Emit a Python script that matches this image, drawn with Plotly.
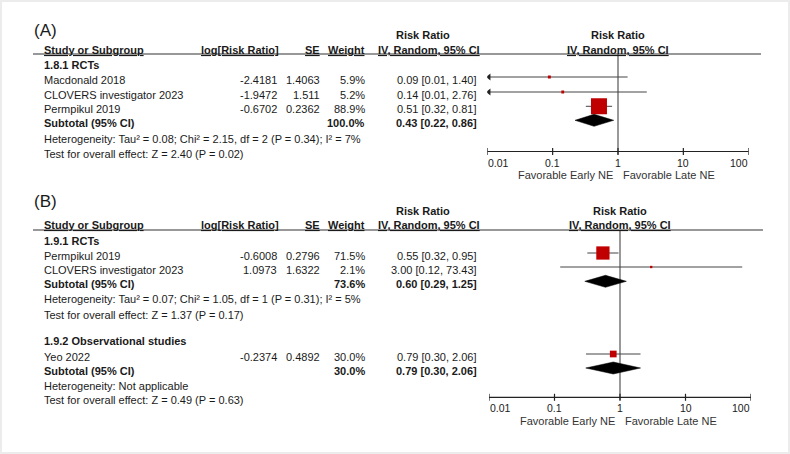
import math
import plotly.graph_objects as go

# ---------------- data ----------------
# Panel A: 1.8.1 RCTs
a_group = "1.8.1 RCTs"
a_studies = ["Macdonald 2018", "CLOVERS investigator 2023", "Permpikul 2019"]
a_logrr = [-2.4181, -1.9472, -0.6702]
a_se = [1.4063, 1.511, 0.2362]
a_weight = [5.9, 5.2, 88.9]
a_rr = [0.09, 0.14, 0.51]
a_lo = [0.01, 0.01, 0.32]
a_hi = [1.40, 2.76, 0.81]
a_sub_weight = [100.0]
a_sub_rr = [0.43]
a_sub_lo = [0.22]
a_sub_hi = [0.86]
a_het = "Heterogeneity: Tau² = 0.08; Chi² = 2.15, df = 2 (P = 0.34); I² = 7%"
a_test = "Test for overall effect: Z = 2.40 (P = 0.02)"

# Panel B: 1.9.1 RCTs
b1_group = "1.9.1 RCTs"
b1_studies = ["Permpikul 2019", "CLOVERS investigator 2023"]
b1_logrr = [-0.6008, 1.0973]
b1_se = [0.2796, 1.6322]
b1_weight = [71.5, 2.1]
b1_rr = [0.55, 3.00]
b1_lo = [0.32, 0.12]
b1_hi = [0.95, 73.43]
b1_sub_weight = [73.6]
b1_sub_rr = [0.60]
b1_sub_lo = [0.29]
b1_sub_hi = [1.25]
b1_het = "Heterogeneity: Tau² = 0.07; Chi² = 1.05, df = 1 (P = 0.31); I² = 5%"
b1_test = "Test for overall effect: Z = 1.37 (P = 0.17)"

# Panel B: 1.9.2 Observational studies
b2_group = "1.9.2 Observational studies"
b2_studies = ["Yeo 2022"]
b2_logrr = [-0.2374]
b2_se = [0.4892]
b2_weight = [30.0]
b2_rr = [0.79]
b2_lo = [0.30]
b2_hi = [2.06]
b2_sub_weight = [30.0]
b2_sub_rr = [0.79]
b2_sub_lo = [0.30]
b2_sub_hi = [2.06]
b2_het = "Heterogeneity: Not applicable"
b2_test = "Test for overall effect: Z = 0.49 (P = 0.63)"

tick_vals = [0.01, 0.1, 1, 10, 100]
tick_text = ["0.01", "0.1", "1", "10", "100"]
favours_left = "Favorable Early NE"
favours_right = "Favorable Late NE"
col_headers = ["Study or Subgroup", "log[Risk Ratio]", "SE", "Weight",
               "IV, Random, 95% CI", "IV, Random, 95% CI"]
rr_title = "Risk Ratio"
panel_labels = ["(A)", "(B)"]

# ---------------- style / layout ----------------
W, H = 790, 454
FONT = "Liberation Sans, Arial, Helvetica, sans-serif"
TXT = "#1a1a1a"
RED = "#C00000"
LINE = "#444444"
XMIN, XMAX = 0.01, 100

fig = go.Figure()
ann = []
shapes = []


def px(x):
    return x / W


def text(x, y, s, anchor="left", size=11, bold=False, under=False,
         xref="paper", color=TXT):
    if under:
        s = "<u>%s</u>" % s
    if bold:
        s = "<b>%s</b>" % s
    ann.append(dict(x=px(x) if xref == "paper" else x, y=y, xref=xref, yref="y",
                    text=s, showarrow=False, xanchor=anchor, yanchor="middle",
                    borderpad=0, font=dict(family=FONT, size=size, color=color)))


def msize(w):
    return 2 + 0.1575 * w


def fmt_ci(r, l, h):
    return "%.2f [%.2f, %.2f]" % (r, l, h)


DOMAINS = {"x": (487.3, 748.7), "x2": (489.0, 751.0)}


def xa_center(xa):
    d = DOMAINS[xa]
    return (d[0] + d[1]) / 2


def draw_group(xa, gy, group, rows_y, studies, logrr, se, weight, rr, lo, hi,
               sub_y, sub_w, sub_rr, sub_lo, sub_hi, het_y, het, test_y, test):
    text(43, gy, group, bold=True)
    lx, ly, ax, ay, sx, sy, ss = [], [], [], [], [], [], []
    for i, name in enumerate(studies):
        y = rows_y[i]
        text(43, y, name)
        text(278, y, str(logrr[i]), anchor="right")
        text(320.5, y, str(se[i]), anchor="right")
        text(366, y, "%.1f%%" % weight[i], anchor="right")
        text(478, y, fmt_ci(rr[i], lo[i], hi[i]), anchor="right")
        my = y - 3
        l_true = math.exp(logrr[i] - 1.96 * se[i])
        h_true = math.exp(logrr[i] + 1.96 * se[i])
        lx += [max(l_true, XMIN), min(h_true, XMAX), None]
        ly += [my, my, None]
        if l_true < XMIN:
            ax.append(XMIN * 1.06)
            ay.append(my)
        sx.append(math.exp(logrr[i]))
        sy.append(my)
        ss.append(msize(weight[i]))
    fig.add_trace(go.Scatter(x=lx, y=ly, xaxis=xa, yaxis="y", mode="lines",
                             line=dict(color=LINE, width=1), hoverinfo="skip",
                             showlegend=False))
    if ax:
        fig.add_trace(go.Scatter(x=ax, y=ay, xaxis=xa, yaxis="y", mode="markers",
                                 marker=dict(symbol="triangle-left", size=6,
                                             color="#222222", line=dict(width=0)),
                                 hoverinfo="skip", showlegend=False))
    fig.add_trace(go.Scatter(x=sx, y=sy, xaxis=xa, yaxis="y", mode="markers",
                             marker=dict(symbol="square", size=ss, color=RED,
                                         opacity=1, line=dict(width=0)),
                             hoverinfo="skip", showlegend=False))
    # subtotal
    text(43, sub_y, "Subtotal (95% CI)", bold=True)
    text(366, sub_y, "%.1f%%" % sub_w[0], anchor="right", bold=True)
    text(478, sub_y, fmt_ci(sub_rr[0], sub_lo[0], sub_hi[0]), anchor="right", bold=True)
    dy = sub_y - 3
    hh = 6
    fig.add_trace(go.Scatter(
        x=[sub_lo[0], sub_rr[0], sub_hi[0], sub_rr[0], sub_lo[0]],
        y=[dy, dy - hh, dy, dy + hh, dy], xaxis=xa, yaxis="y", mode="lines",
        fill="toself", fillcolor="#000000", line=dict(color="#000000", width=0.5),
        hoverinfo="skip", showlegend=False))
    text(43, het_y, het)
    text(43, test_y, test)


def draw_frame(xa, label, label_y, title_y, head_y, rule_y, rule_x1, axis_y,
               tick_y, fav_y):
    text(33, label_y, label, size=17)
    text(423, title_y, rr_title, anchor="center", bold=True)
    text(xa_center(xa), title_y, rr_title, anchor="center", bold=True)
    text(43, head_y, col_headers[0], bold=True, under=True)
    text(280, head_y, col_headers[1], anchor="right", bold=True, under=True)
    text(320.5, head_y, col_headers[2], anchor="right", bold=True, under=True)
    text(366, head_y, col_headers[3], anchor="right", bold=True, under=True)
    text(429, head_y, col_headers[4], anchor="center", bold=True, under=True)
    text(xa_center(xa), head_y, col_headers[5], anchor="center", bold=True, under=True)
    shapes.append(dict(type="line", xref="paper", yref="y", x0=px(33), x1=px(rule_x1),
                       y0=rule_y, y1=rule_y, line=dict(color="#333333", width=1.2)))
    # reference line at RR = 1
    fig.add_trace(go.Scatter(x=[1, 1], y=[rule_y, axis_y + 3], xaxis=xa, yaxis="y",
                             mode="lines", line=dict(color="#555555", width=1.2),
                             hoverinfo="skip", showlegend=False))
    # axis line + ticks
    tx, ty = [XMIN, XMAX, None], [axis_y, axis_y, None]
    for t in tick_vals:
        tx += [t, t, None]
        ty += [axis_y - 3.5, axis_y + 3.5, None]
    fig.add_trace(go.Scatter(x=tx, y=ty, xaxis=xa, yaxis="y", mode="lines",
                             line=dict(color="#222222", width=1.2),
                             hoverinfo="skip", showlegend=False))
    for i, t in enumerate(tick_vals):
        anc = "left" if i == 0 else ("right" if i == len(tick_vals) - 1 else "center")
        text(math.log10(t), tick_y, tick_text[i], anchor=anc, size=10.5, xref=xa)
    ann.append(dict(x=0, y=fav_y, xref=xa, yref="y", text=favours_left,
                    showarrow=False, xanchor="right", yanchor="middle", xshift=-4,
                    borderpad=0, font=dict(family=FONT, size=11, color="#333333")))
    ann.append(dict(x=0, y=fav_y, xref=xa, yref="y", text=favours_right,
                    showarrow=False, xanchor="left", yanchor="middle", xshift=4,
                    borderpad=0, font=dict(family=FONT, size=11, color="#333333")))


# ---------------- panel A ----------------
draw_frame("x", panel_labels[0], 30, 35, 50, 54, 761, 151.5, 163, 175)
draw_group("x", 65, a_group, [80, 95, 109.3], a_studies, a_logrr, a_se, a_weight,
           a_rr, a_lo, a_hi, 123.3, a_sub_weight, a_sub_rr, a_sub_lo, a_sub_hi,
           139, a_het, 154, a_test)

# ---------------- panel B ----------------
draw_frame("x2", panel_labels[1], 201, 211, 225, 230, 763, 397.3, 408, 421)
draw_group("x2", 241, b1_group, [256, 270], b1_studies, b1_logrr, b1_se, b1_weight,
           b1_rr, b1_lo, b1_hi, 284.3, b1_sub_weight, b1_sub_rr, b1_sub_lo, b1_sub_hi,
           298.5, b1_het, 315, b1_test)
draw_group("x2", 341, b2_group, [357], b2_studies, b2_logrr, b2_se, b2_weight,
           b2_rr, b2_lo, b2_hi, 371, b2_sub_weight, b2_sub_rr, b2_sub_lo, b2_sub_hi,
           386, b2_het, 400, b2_test)

# white page on light-grey frame
shapes.insert(0, dict(type="rect", xref="paper", yref="paper", x0=px(2), x1=px(788),
                      y0=1 - 452 / H, y1=1 - 2 / H, fillcolor="#ffffff",
                      line=dict(width=0), layer="below"))

axis_common = dict(type="log", range=[math.log10(XMIN), math.log10(XMAX)],
                   visible=False, fixedrange=True)
fig.update_layout(
    width=W, height=H,
    margin=dict(l=0, r=0, t=0, b=0, pad=0),
    paper_bgcolor="#ececec",
    plot_bgcolor="rgba(0,0,0,0)",
    showlegend=False,
    hovermode=False,
    xaxis=dict(domain=[px(DOMAINS["x"][0]), px(DOMAINS["x"][1])], anchor="y",
               **axis_common),
    xaxis2=dict(domain=[px(DOMAINS["x2"][0]), px(DOMAINS["x2"][1])], anchor="y",
                **axis_common),
    yaxis=dict(domain=[0, 1], range=[H, 0], visible=False, fixedrange=True),
    annotations=ann,
    shapes=shapes,
)

fig.write_html("out.html",
               config={"displayModeBar": False, "staticPlot": True},
               post_script="document.body.style.margin='0';"
                           "document.body.style.overflow='hidden';")
